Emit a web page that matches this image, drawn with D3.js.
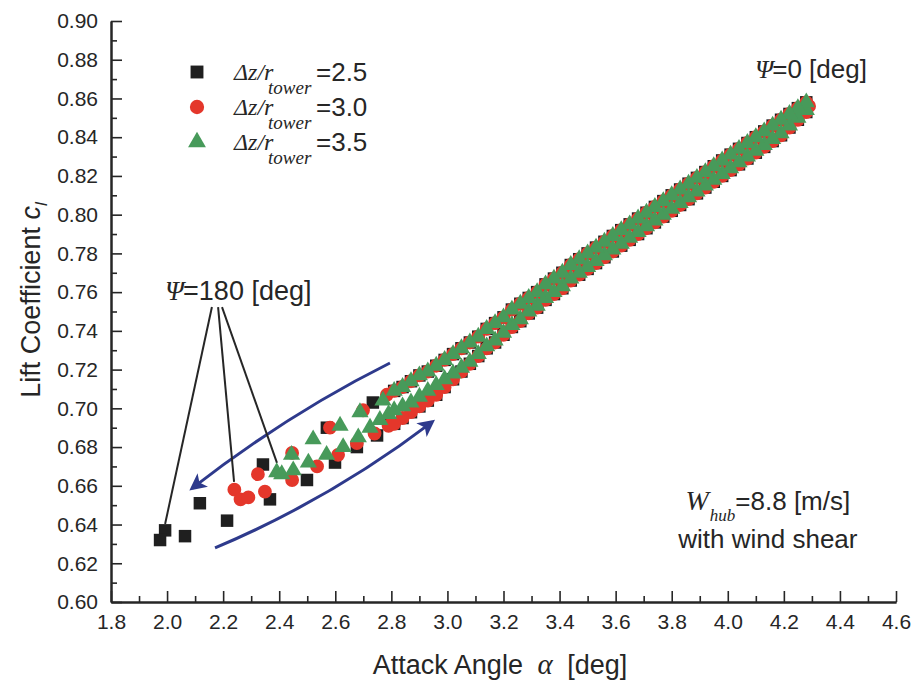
<!DOCTYPE html>
<html>
<head>
<meta charset="utf-8">
<script src="https://cdn.jsdelivr.net/npm/d3@7"></script>
<style>
  body { margin: 0; background: #fff; }
  svg { display: block; }
</style>
</head>
<body>
<svg id="chart" width="912" height="685"></svg>
<script>
// ---- axis ticks ----
const xTickValues = [1.8, 2.0, 2.2, 2.4, 2.6, 2.8, 3.0, 3.2, 3.4, 3.6, 3.8, 4.0, 4.2, 4.4, 4.6];
const yTickValues = [0.60, 0.62, 0.64, 0.66, 0.68, 0.70, 0.72, 0.74, 0.76, 0.78, 0.80, 0.82, 0.84, 0.86, 0.88, 0.90];

// ---- dense part of the loop (shared attack angles) ----
const bandAlpha = [4.28, 4.25, 4.22, 4.19, 4.16, 4.13, 4.10, 4.07, 4.04, 4.01, 3.98, 3.95, 3.92, 3.89, 3.86, 3.83, 3.80, 3.77, 3.74, 3.71,
                   3.68, 3.65, 3.62, 3.59, 3.56, 3.53, 3.50, 3.47, 3.44, 3.41, 3.38, 3.35, 3.32, 3.29, 3.26, 3.23, 3.20, 3.17, 3.14, 3.11,
                   3.08, 3.05, 3.02, 2.99, 2.96, 2.93, 2.90, 2.87, 2.84, 2.81];
// upper branch (psi 0 -> 180), all three cases
const bandUpper = [0.858, 0.855, 0.852, 0.849, 0.846, 0.843, 0.840, 0.837, 0.834, 0.831, 0.828, 0.825, 0.822, 0.819, 0.816, 0.813, 0.810, 0.807, 0.804, 0.801,
                   0.798, 0.795, 0.792, 0.789, 0.786, 0.783, 0.780, 0.777, 0.774, 0.770, 0.767, 0.764, 0.760, 0.757, 0.754, 0.751, 0.747, 0.744, 0.741, 0.737,
                   0.734, 0.731, 0.728, 0.725, 0.722, 0.719, 0.717, 0.714, 0.711, 0.709];
// lower branch (psi 180 -> 360), dz/r = 2.5 and 3.0
const bandLowerBR = [0.853, 0.849, 0.845, 0.841, 0.838, 0.835, 0.832, 0.829, 0.826, 0.823, 0.820, 0.817, 0.814, 0.811, 0.808, 0.805, 0.802, 0.799, 0.796, 0.793,
                     0.790, 0.787, 0.784, 0.781, 0.778, 0.775, 0.772, 0.769, 0.766, 0.762, 0.759, 0.756, 0.752, 0.749, 0.745, 0.742, 0.738, 0.734, 0.731, 0.727,
                     0.723, 0.719, 0.715, 0.711, 0.707, 0.704, 0.701, 0.698, 0.695, 0.692];
// lower branch, dz/r = 3.5
const bandLowerG = [0.854, 0.850, 0.846, 0.842, 0.839, 0.836, 0.833, 0.830, 0.827, 0.824, 0.821, 0.818, 0.815, 0.812, 0.809, 0.806, 0.803, 0.800, 0.797, 0.794,
                    0.791, 0.788, 0.785, 0.782, 0.779, 0.776, 0.773, 0.770, 0.767, 0.763, 0.760, 0.757, 0.753, 0.750, 0.746, 0.743, 0.739, 0.735, 0.732, 0.728,
                    0.724, 0.721, 0.718, 0.715, 0.712, 0.709, 0.706, 0.703, 0.701, 0.699];

// ---- tower-passage points, one set per case ----
const blackAlpha = [2.734, 2.570, 2.342, 2.117, 1.993, 1.975, 2.064, 2.214, 2.367, 2.499, 2.599, 2.677, 2.749, 2.795];
const blackCl    = [0.703, 0.690, 0.671, 0.651, 0.637, 0.632, 0.634, 0.642, 0.653, 0.663, 0.672, 0.680, 0.686, 0.692];
const redAlpha   = [4.290, 2.784, 2.699, 2.581, 2.446, 2.324, 2.240, 2.262, 2.290, 2.349, 2.446, 2.535, 2.610, 2.677, 2.740, 2.790];
const redCl      = [0.856, 0.707, 0.699, 0.690, 0.677, 0.666, 0.658, 0.653, 0.654, 0.657, 0.663, 0.670, 0.676, 0.682, 0.687, 0.691];
const greenAlpha = [2.770, 2.688, 2.617, 2.521, 2.444, 2.391, 2.409, 2.450, 2.504, 2.569, 2.628, 2.682, 2.724, 2.759, 2.790];
const greenCl    = [0.704, 0.698, 0.691, 0.684, 0.676, 0.667, 0.666, 0.668, 0.672, 0.676, 0.680, 0.685, 0.690, 0.694, 0.697];

// ---- annotation anchors (data units) ----
const psi180Label = [1.993, 0.756];
const psi180From  = [[2.160, 0.7523], [2.182, 0.7523], [2.196, 0.7523]];
const psi180To    = [[1.993, 0.6403], [2.239, 0.6620], [2.392, 0.6718]];
const psi0Label   = [4.097, 0.8706];
const arrowDown   = [[2.795, 0.7234], [2.431, 0.6971], [2.089, 0.6587]];
const arrowUp     = [[2.171, 0.6279], [2.588, 0.6535], [2.946, 0.6930]];
const windLabel   = [4.143, 0.6475];

const zip = (a, b) => a.map((v, i) => [v, b[i]]);

const series = [
  { label: "2.5", color: "#1f1f1f", type: d3.symbolSquare, size: 156,
    points: zip(blackAlpha, blackCl).concat(zip(bandAlpha, bandLowerBR), zip(bandAlpha, bandUpper)) },
  { label: "3.0", color: "#e4372b", type: d3.symbolCircle, size: 150,
    points: zip(redAlpha, redCl).concat(zip(bandAlpha, bandLowerBR), zip(bandAlpha, bandUpper)) },
  { label: "3.5", color: "#479a5a", type: d3.symbolTriangle, size: 128,
    points: zip(greenAlpha, greenCl).concat(zip(bandAlpha, bandLowerG), zip(bandAlpha, bandUpper)) }
];

const svg = d3.select("#chart");
const ink = "#262626";
const sans = "'Liberation Sans', Arial, sans-serif";
const serif = "'Liberation Serif', 'Times New Roman', serif";

const x = d3.scaleLinear().domain([1.8, 4.6]).range([111, 896]);
const y = d3.scaleLinear().domain([0.60, 0.90]).range([602, 21]);

// ---- axes: major ticks labelled, minor ticks between, all pointing inward ----
const xMinor = d3.range(1.9, 4.55, 0.2);
const yMinor = d3.range(0.61, 0.895, 0.02);

const gx = svg.append("g").attr("transform", `translate(0,${y(0.60)})`);
gx.call(d3.axisBottom(x).tickValues(xMinor).tickSize(-6).tickSizeOuter(0).tickFormat(""));
gx.call(g => g.selectAll(".tick").attr("class", "minor"));
gx.append("g").call(d3.axisBottom(x).tickValues(xTickValues).tickSize(-11).tickSizeOuter(0)
  .tickPadding(12).tickFormat(d3.format(".1f")));

const gy = svg.append("g").attr("transform", `translate(${x(1.8)},0)`);
gy.call(d3.axisLeft(y).tickValues(yMinor).tickSize(-6).tickSizeOuter(0).tickFormat(""));
gy.append("g").call(d3.axisLeft(y).tickValues(yTickValues).tickSize(-11).tickSizeOuter(0)
  .tickPadding(13).tickFormat(d3.format(".2f")));

svg.selectAll(".domain").attr("stroke", ink).attr("stroke-width", 2);
svg.selectAll(".tick line, .minor line").attr("stroke", ink).attr("stroke-width", 1.6);
svg.selectAll(".tick text").attr("fill", ink).attr("font-family", sans).attr("font-size", 21);

// ---- axis titles ----
const xt = svg.append("text").attr("x", 500).attr("y", 674).attr("text-anchor", "middle")
  .attr("font-family", sans).attr("font-size", 27).attr("fill", ink);
xt.append("tspan").text("Attack Angle ");
xt.append("tspan").attr("font-family", serif).attr("font-style", "italic").attr("font-size", 29).attr("dx", 7).text("α");
xt.append("tspan").attr("dx", 7).text(" [deg]");

const yt = svg.append("text").attr("transform", "translate(40,300) rotate(-90)").attr("text-anchor", "middle")
  .attr("font-family", sans).attr("font-size", 27).attr("fill", ink);
yt.append("tspan").text("Lift Coefficient ");
yt.append("tspan").attr("font-style", "italic").text("c");
yt.append("tspan").attr("font-style", "italic").attr("font-size", 17).attr("dy", 7).text("l");

// ---- arrows showing direction around the loop ----
const defs = svg.append("defs");
defs.append("marker").attr("id", "head").attr("viewBox", "0 0 10 10").attr("refX", 8).attr("refY", 5)
  .attr("markerWidth", 20).attr("markerHeight", 17).attr("markerUnits", "userSpaceOnUse").attr("orient", "auto")
  .append("path").attr("d", "M0,0 L10,5 L0,10 L2.5,5 Z").attr("fill", "#2e3a8c");

const curve = pts => {
  const p = pts.map(d => [x(d[0]), y(d[1])]);
  return `M${p[0][0]},${p[0][1]} Q${p[1][0]},${p[1][1]} ${p[2][0]},${p[2][1]}`;
};
[arrowDown, arrowUp].forEach(a => {
  svg.append("path").attr("d", curve(a)).attr("fill", "none").attr("stroke", "#2e3a8c")
    .attr("stroke-width", 3).attr("marker-end", "url(#head)");
});

// ---- pointer lines to the psi = 180 points ----
psi180From.forEach((f, i) => {
  svg.append("line").attr("x1", x(f[0])).attr("y1", y(f[1]))
    .attr("x2", x(psi180To[i][0])).attr("y2", y(psi180To[i][1]))
    .attr("stroke", ink).attr("stroke-width", 2);
});

// ---- markers ----
series.forEach(s => {
  svg.append("g").selectAll("path").data(s.points).join("path")
    .attr("transform", d => `translate(${x(d[0])},${y(d[1])})`)
    .attr("d", d3.symbol().type(s.type).size(s.size))
    .attr("fill", s.color);
});

// ---- legend ----
const legend = svg.append("g");
series.forEach((s, i) => {
  const cy = 72 + i * 35;
  legend.append("path").attr("transform", `translate(197,${cy})`)
    .attr("d", d3.symbol().type(s.type).size(s.size + 10)).attr("fill", s.color);
  legend.append("text").attr("x", 234).attr("y", cy + 8).attr("font-family", serif).attr("font-style", "italic")
    .attr("font-size", 24).attr("fill", ink).text("Δz/r");
  legend.append("text").attr("x", 268).attr("y", cy + 22).attr("font-family", serif).attr("font-style", "italic")
    .attr("font-size", 19).attr("fill", ink).text("tower");
  legend.append("text").attr("x", 316).attr("y", cy + 9).attr("font-family", sans)
    .attr("font-size", 26).attr("fill", ink).text("=" + s.label);
});

// ---- text annotations ----
function psiLabel(pos, rest, size) {
  const t = svg.append("text").attr("x", x(pos[0])).attr("y", y(pos[1]))
    .attr("font-family", sans).attr("font-size", size).attr("fill", ink);
  t.append("tspan").attr("font-family", serif).attr("font-style", "italic").text("Ψ");
  t.append("tspan").attr("dx", -1).text("=" + rest);
}
psiLabel(psi180Label, "180 [deg]", 27);
psiLabel(psi0Label, "0 [deg]", 26);

const wl = svg.append("text").attr("x", x(windLabel[0])).attr("y", y(windLabel[1])).attr("text-anchor", "middle")
  .attr("font-family", sans).attr("font-size", 26).attr("fill", ink);
wl.append("tspan").attr("font-family", serif).attr("font-style", "italic").attr("font-size", 28).text("W");
wl.append("tspan").attr("font-family", serif).attr("font-style", "italic").attr("font-size", 17).attr("dx", 1).attr("dy", 11).text("hub");
wl.append("tspan").attr("dy", -11).text("=8.8 [m/s]");
svg.append("text").attr("x", x(windLabel[0])).attr("y", y(windLabel[1]) + 38).attr("text-anchor", "middle")
  .attr("font-family", sans).attr("font-size", 26).attr("fill", ink).text("with wind shear");
</script>
</body>
</html>
